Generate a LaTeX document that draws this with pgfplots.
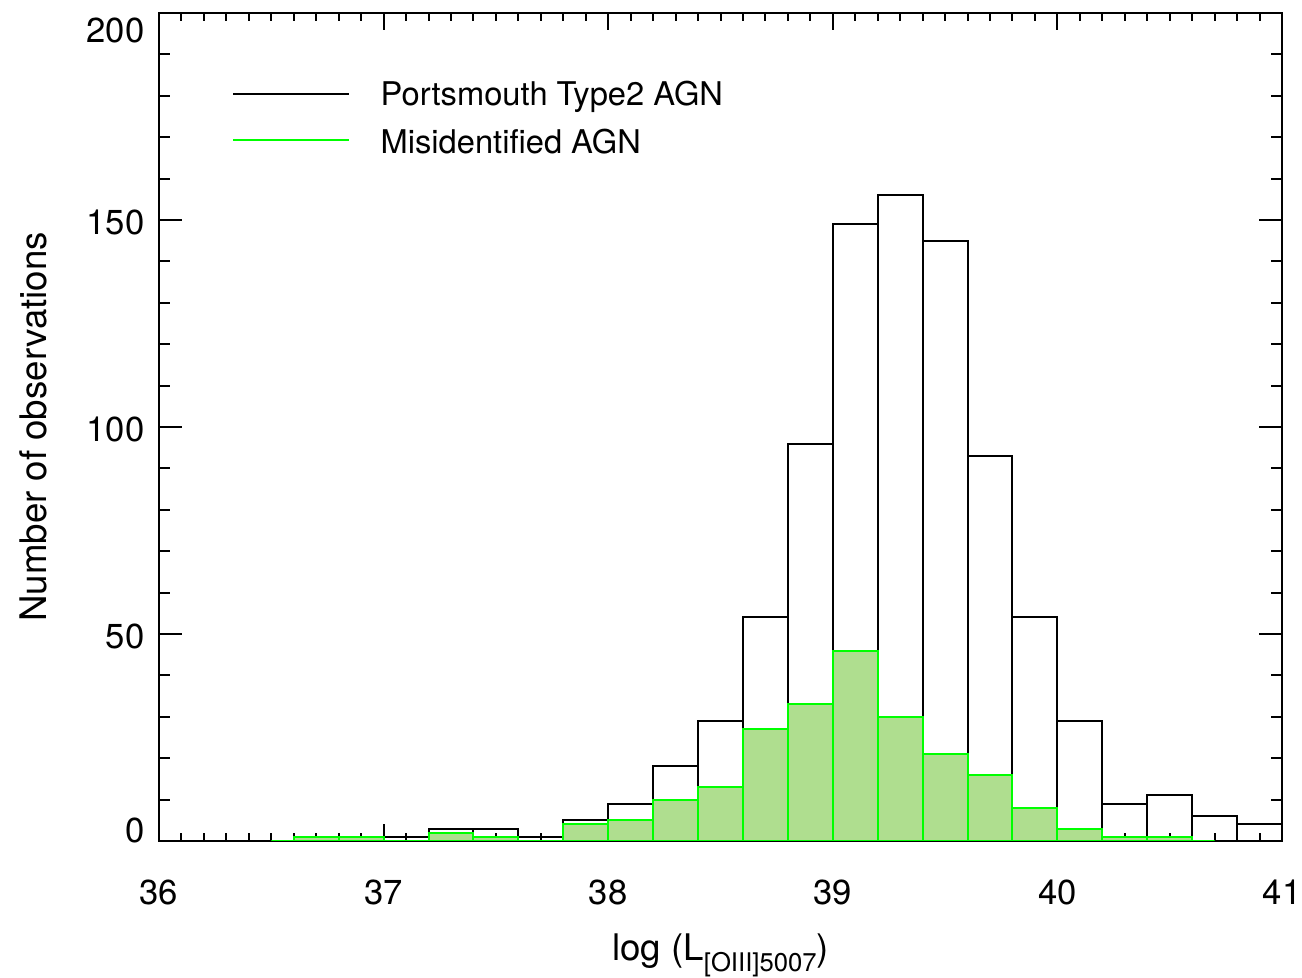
\documentclass[border=0pt]{standalone}
\usepackage{fontspec}
\setmainfont{TeX Gyre Heros}
\usepackage{pgfplots}
\pgfplotsset{compat=1.18}
\definecolor{idlgreen}{RGB}{0,255,0}
\definecolor{fillgreen}{RGB}{175,222,143}
\begin{document}
\begin{tikzpicture}
\begin{axis}[
  scale only axis,
  width=336.9pt, height=248.4pt,
  xmin=36, xmax=41, ymin=0, ymax=200,
  axis line style={line width=0.7pt},
  every tick/.style={black, line width=0.6pt},
  tick align=inside,
  xtick={36,37,38,39,40,41},
  minor x tick num=9,
  ytick={0,50,100,150,200},
  minor y tick num=4,
  xtick style={/pgfplots/major tick length=5.1pt,/pgfplots/minor tick length=2.5pt},
  ytick style={/pgfplots/major tick length=6.9pt,/pgfplots/minor tick length=3.4pt},
  xticklabels={36,37,38,39,40,41},
  yticklabels={\raisebox{-0.45pt}{0},\raisebox{-4.35pt}{50},\raisebox{-4.35pt}{100},\raisebox{-4.35pt}{150},\raisebox{-9pt}{200}},
  xticklabel style={anchor=base, inner sep=0pt, yshift=-19.2pt, font=\fontsize{10.4}{12}\selectfont},
  yticklabel style={anchor=base east, inner sep=0pt, xshift=-4.2pt, font=\fontsize{10.4}{12}\selectfont},
  xlabel={log (L\raisebox{-3.3pt}{\fontsize{7.7}{8}\selectfont [OIII]5007})},
  ylabel={Number of observations},
  xlabel style={at={(axis description cs:0.5,-0.1449)}, anchor=base, inner sep=0pt, font=\fontsize{11}{13}\selectfont},
  ylabel style={at={(axis description cs:-0.1122,0.5)}, anchor=center, inner sep=0pt, font=\fontsize{11}{13}\selectfont},
]
% Portsmouth Type2 AGN (open bars)
\addplot[ybar interval, draw=black, fill=none, line width=0.6pt] coordinates {
(36.5,0) (36.6,1) (36.8,1) (37.0,1) (37.2,3) (37.4,3) (37.6,1) (37.8,5)
(38.0,9) (38.2,18) (38.4,29) (38.6,54) (38.8,96) (39.0,149) (39.2,156)
(39.4,145) (39.6,93) (39.8,54) (40.0,29) (40.2,9) (40.4,11) (40.6,6)
(40.8,4) (41.0,4)
};
% Misidentified AGN (filled bars)
\addplot[ybar interval, fill=fillgreen, draw=idlgreen, line width=0.6pt] coordinates {
(36.5,0) (36.6,1) (36.8,1) (37.0,0) (37.2,2) (37.4,1) (37.6,0) (37.8,4)
(38.0,5) (38.2,10) (38.4,13) (38.6,27) (38.8,33) (39.0,46) (39.2,30)
(39.4,21) (39.6,16) (39.8,8) (40.0,3) (40.2,1) (40.4,1) (40.6,0) (40.7,0)
};
\end{axis}
% legend
\draw[black, line width=0.7pt] (22.2pt,224.1pt) -- (57pt,224.1pt);
\draw[idlgreen, line width=0.7pt] (22.2pt,210.2pt) -- (57pt,210.2pt);
\node[anchor=base west, inner sep=0pt, font=\fontsize{9.8}{11}\selectfont] at (66.3pt,220.5pt) {Portsmouth Type2 AGN};
\node[anchor=base west, inner sep=0pt, font=\fontsize{9.8}{11}\selectfont] at (66.3pt,206.1pt) {Misidentified AGN};
\pgfresetboundingbox
\useasboundingbox (-47.7pt,-41.1pt) rectangle (342.9pt,252.3pt);
\end{tikzpicture}
\end{document}
